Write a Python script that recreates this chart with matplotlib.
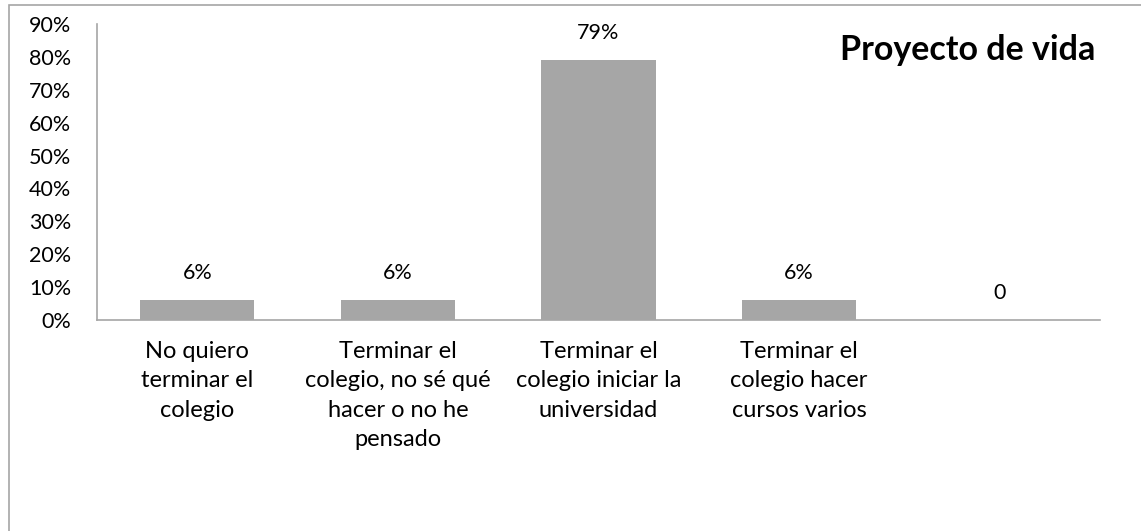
import matplotlib.pyplot as plt
import matplotlib.patches as mpatches
from matplotlib.ticker import PercentFormatter

# Data
categories = [
    'No quiero\nterminar el\ncolegio',
    'Terminar el\ncolegio, no sé qué\nhacer o no he\npensado',
    'Terminar el\ncolegio iniciar la\nuniversidad',
    'Terminar el\ncolegio hacer\ncursos varios',
    '',
]
values = [0.06, 0.06, 0.79, 0.06, 0.0]
value_labels = ['6%', '6%', '79%', '6%', '0']

plt.rcParams['font.family'] = ['Lato', 'DejaVu Sans']

W, H = 1141, 531
fig = plt.figure(figsize=(W / 100, H / 100), dpi=100)
fig.patch.set_facecolor('white')

# outer chart frame (cut off at right and bottom)
frame = mpatches.Rectangle((9 / W, -0.1), 1.2, 1 - 5 / H + 0.1,
                           transform=fig.transFigure, fill=False,
                           edgecolor='#a6a6a6', linewidth=1.2)
fig.patches.append(frame)

ax = fig.add_axes([97 / W, 1 - 320 / H, (1100 - 97) / W, (320 - 24) / H])

x = range(len(categories))
ax.bar(x, values, width=0.57, color='#a6a6a6')

ax.set_xlim(-0.5, len(categories) - 0.5)
ax.set_ylim(0, 0.9)
ax.set_yticks([i / 10 for i in range(10)])
ax.yaxis.set_major_formatter(PercentFormatter(1.0, decimals=0))
ax.tick_params(axis='y', length=0, labelsize=15.5, pad=18.7)

ax.set_xticks(list(x))
ax.set_xticklabels(categories, fontsize=17, linespacing=1.5, va='top')
ax.tick_params(axis='x', length=0, pad=15)

for side in ['top', 'right']:
    ax.spines[side].set_visible(False)
for side in ['left', 'bottom']:
    ax.spines[side].set_color('#a6a6a6')
    ax.spines[side].set_linewidth(1.2)

for xi, v, lab in zip(x, values, value_labels):
    ax.annotate(lab, (xi, v), xytext=(0, 27), textcoords='offset pixels',
                ha='center', va='center', fontsize=15.5)

fig.text(1095 / W, 1 - 50 / H, 'Proyecto de vida', ha='right', va='center',
         fontsize=24.5, fontweight='bold')

plt.savefig('out.png', dpi=100, facecolor='white')
plt.close()
